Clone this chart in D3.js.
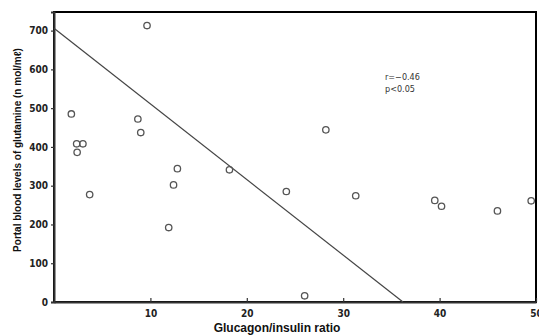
<html>
  <head>
    <meta charset="UTF-8">
    <script src="https://d3js.org/d3.v7.min.js"></script>
    <title>Glucagon/insulin ratio vs glutamine</title>
  </head>
  <body style="margin:0">
	<script type="text/javascript">

      // data
      var ratio     = [9.65, 1.8, 2.35, 3.0, 2.4, 8.7, 9.0, 12.8, 3.7, 12.4, 11.9, 18.2, 24.1, 31.3, 26.0, 28.2, 39.5, 40.2, 46.0, 49.5];
      var glutamine = [713, 485, 408, 408, 386, 472, 437, 344, 277, 302, 192, 341, 285, 274, 16, 444, 262, 247, 235, 261];
      var fitLine   = [[0, 706], [36.2, 0]];
      var xTicks    = [10, 20, 30, 40, 50];
      var yTicks    = [0, 100, 200, 300, 400, 500, 600, 700];
      var statsText = ["r=\u22120.46", "p<0.05"];

      var width = 539;
      var height = 335;
      var margin = {left: 54, top: 12, right: 3, bottom: 33};
      var yMax = 748;

      var svg = d3.select('body')
                  .append('svg')
                  .attr('width', width)
                  .attr('height', height);

      var x = d3.scaleLinear().domain([0, 50]).range([margin.left, width - margin.right]);
      var y = d3.scaleLinear().domain([0, yMax]).range([height - margin.bottom, margin.top]);

      var tickFont = '"DejaVu Sans Condensed", "Liberation Sans Narrow", Arial, sans-serif';
      var ink = '#333';

      // plot frame (same way as the red test box that showed)
      svg.append('rect')
          .attr('x', x(0))
          .attr('y', y(yMax))
          .attr('width', x(50) - x(0))
          .attr('height', y(0) - y(yMax))
          .style('fill', 'none')
          .style('stroke', 'black')
          .style('stroke-width', 2);

      // axes
      var xAxis = svg.append('g')
          .attr('transform', 'translate(0,' + y(0) + ')')
          .call(d3.axisBottom(x).tickValues(xTicks).tickSizeInner(-4).tickSizeOuter(0).tickPadding(8));
      var yAxis = svg.append('g')
          .attr('transform', 'translate(' + x(0) + ',0)')
          .call(d3.axisLeft(y).tickValues(yTicks).tickSize(3).tickPadding(3));

      [xAxis, yAxis].forEach(function(g){
        g.select('.domain').attr('stroke', ink).attr('stroke-width', 2);
        g.selectAll('.tick line').attr('stroke', ink).attr('stroke-width', 1.2);
        g.selectAll('.tick text')
          .style('font-family', tickFont)
          .style('font-weight', 'bold')
          .style('font-size', '10px')
          .style('fill', '#222');
      });

      // regression line
      svg.append('line')
          .attr('x1', x(fitLine[0][0])).attr('y1', y(fitLine[0][1]))
          .attr('x2', x(fitLine[1][0])).attr('y2', y(fitLine[1][1]))
          .attr('stroke', '#444')
          .attr('stroke-width', 1.2);

      // points
      svg.selectAll('circle.pt')
          .data(ratio)
          .enter()
          .append('circle')
          .attr('class', 'pt')
          .attr('cx', function(d){ return x(d); })
          .attr('cy', function(d, i){ return y(glutamine[i]); })
          .attr('r', 3.2)
          .attr('fill', 'none')
          .attr('stroke', '#555')
          .attr('stroke-width', 1.3);

      // stats text
      svg.selectAll('text.stat')
          .data(statsText)
          .enter()
          .append('text')
          .attr('class', 'stat')
          .attr('x', 385)
          .attr('y', function(d, i){ return 80 + i * 12; })
          .text(function(d){ return d; })
          .style('font-family', tickFont)
          .style('font-size', '9px')
          .style('fill', '#333');

      // axis titles
      svg.append('text')
          .attr('x', 277)
          .attr('y', 332)
          .attr('text-anchor', 'middle')
          .text('Glucagon/insulin ratio')
          .style('font-family', 'Arial, "Liberation Sans", sans-serif')
          .style('font-weight', 'bold')
          .style('font-size', '12px')
          .style('fill', '#111');

      svg.append('text')
          .attr('transform', 'translate(21,' + 150 + ') rotate(-90)')
          .attr('text-anchor', 'middle')
          .text('Portal blood levels of glutamine (n mol/m\u2113)')
          .style('font-family', 'Arial, "Liberation Sans", "DejaVu Sans", sans-serif')
          .style('font-weight', 'bold')
          .style('font-size', '10px')
          .style('fill', '#111');

	</script>
  </body>
</html>
